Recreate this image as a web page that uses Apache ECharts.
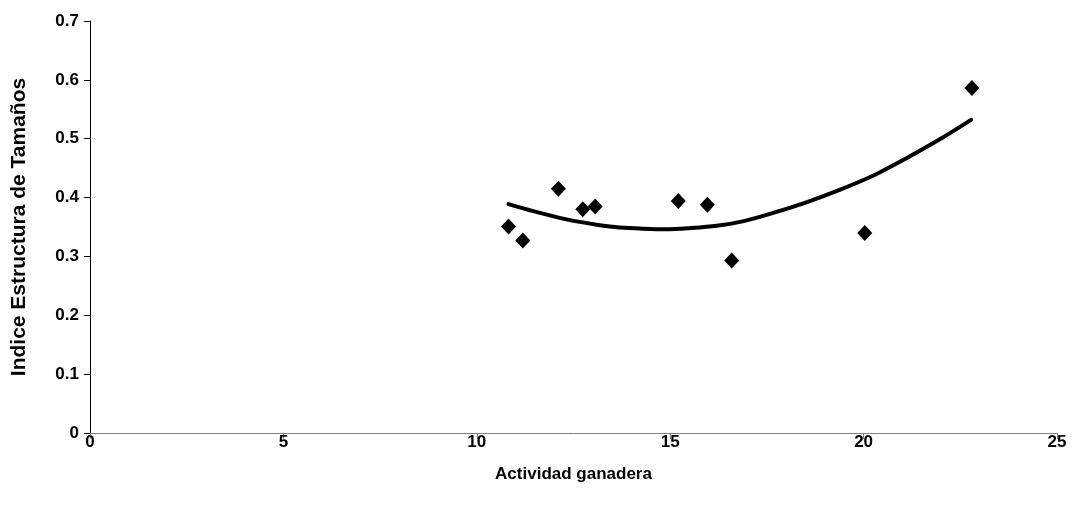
<!DOCTYPE html>
<html>
<head>
<meta charset="utf-8">
<script src="https://cdn.jsdelivr.net/npm/echarts@6/dist/echarts.min.js"></script>
<style>
  html, body { margin: 0; padding: 0; background: #fff; }
  #chart { width: 1072px; height: 515px; }
</style>
</head>
<body>
<div id="chart"></div>
<script>
// puntos observados
const actividad = [10.82, 11.19, 12.11, 12.74, 13.06, 15.21, 15.96, 16.59, 20.03, 22.80];
const indice = [0.351, 0.327, 0.415, 0.380, 0.385, 0.394, 0.388, 0.293, 0.340, 0.586];

// línea de tendencia
const trendX = [10.82, 11.46, 12.32, 13.18, 13.7, 14.3, 14.9, 15.5, 16.2, 16.9, 17.66, 18.52, 19.38, 20.24, 21.11, 21.97, 22.78];
const trendY = [0.389, 0.377, 0.363, 0.353, 0.349, 0.347, 0.346, 0.348, 0.352, 0.360, 0.374, 0.392, 0.413, 0.437, 0.467, 0.499, 0.532];

const xTicks = [0, 5, 10, 15, 20, 25];

const font = '"Liberation Sans", Arial, sans-serif';

const chart = echarts.init(document.getElementById('chart'), null, { renderer: 'canvas' });

chart.setOption({
  animation: false,
  backgroundColor: '#fff',
  grid: { left: 90, right: 15, top: 21, bottom: 82, containLabel: false },
  xAxis: {
    type: 'value',
    min: xTicks[0],
    max: xTicks[xTicks.length - 1],
    interval: 5,
    name: 'Actividad ganadera',
    nameLocation: 'middle',
    nameGap: 33,
    nameTextStyle: { fontFamily: font, fontWeight: 'bold', fontSize: 17, color: '#000' },
    axisLine: { show: true, lineStyle: { color: '#808080', width: 1 } },
    axisTick: { show: true, inside: false, length: 6, lineStyle: { color: '#808080' } },
    axisLabel: { fontFamily: font, fontWeight: 'bold', fontSize: 17, color: '#000', margin: 1 },
    splitLine: { show: false }
  },
  yAxis: {
    type: 'value',
    min: 0,
    max: 0.7,
    interval: 0.1,
    name: 'Indice Estructura de Tamaños',
    nameLocation: 'middle',
    nameGap: 60,
    nameTextStyle: { fontFamily: font, fontWeight: 'bold', fontSize: 21, color: '#000' },
    axisLine: { show: true, lineStyle: { color: '#000', width: 1 } },
    axisTick: { show: true, inside: false, length: 6, lineStyle: { color: '#000' } },
    axisLabel: {
      fontFamily: font, fontWeight: 'bold', fontSize: 17, color: '#000', margin: 11,
      formatter: v => (v === 0 ? '0' : v.toFixed(1))
    },
    splitLine: { show: false }
  },
  series: [
    {
      type: 'line',
      data: trendX.map((x, i) => [x, trendY[i]]),
      smooth: 0.3,
      showSymbol: false,
      lineStyle: { color: '#000', width: 4, cap: 'round' },
      z: 1
    },
    {
      type: 'scatter',
      data: actividad.map((x, i) => [x, indice[i]]),
      symbol: 'diamond',
      symbolSize: [15, 16],
      itemStyle: { color: '#000', opacity: 1 },
      z: 2
    }
  ]
});
</script>
</body>
</html>
